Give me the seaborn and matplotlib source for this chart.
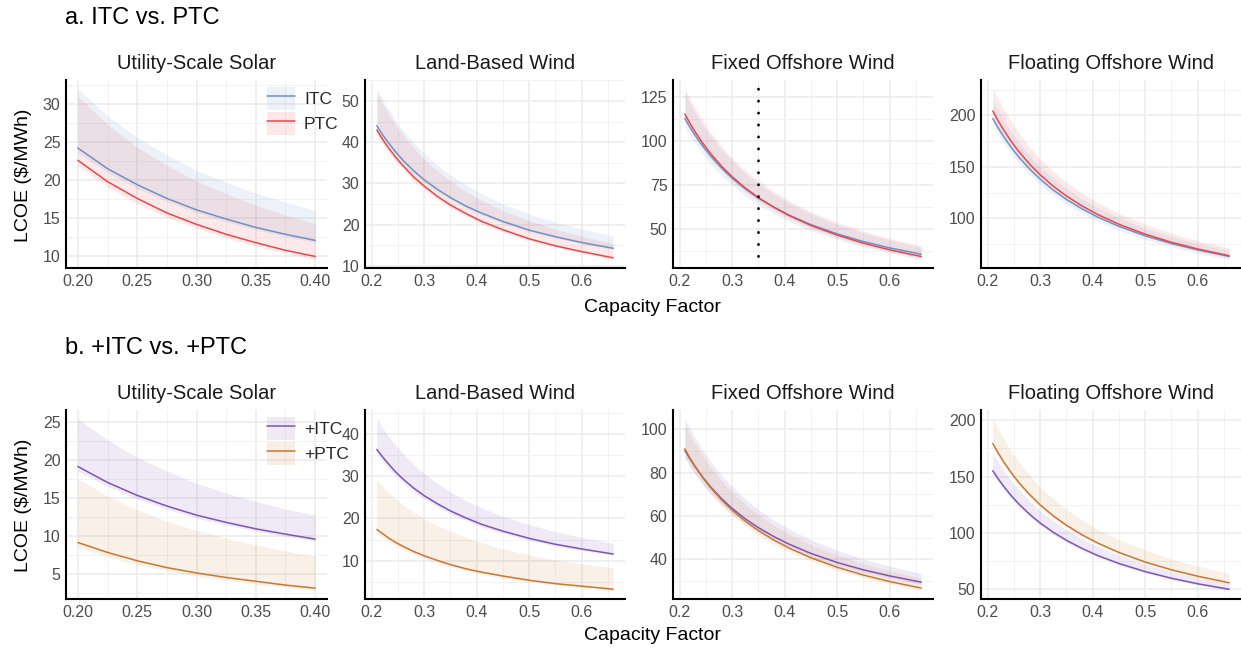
import numpy as np
import pandas as pd
import matplotlib
matplotlib.use("Agg")
import matplotlib.pyplot as plt
import seaborn as sns
from matplotlib.lines import Line2D
from matplotlib.patches import Patch
from matplotlib.legend_handler import HandlerTuple
from matplotlib.ticker import FormatStrFormatter, MultipleLocator

# capacity factor grids
cf_solar = [0.20, 0.225, 0.25, 0.275, 0.30, 0.325, 0.35, 0.375, 0.40]
cf_wind = [0.21, 0.22, 0.23, 0.245, 0.26, 0.28, 0.30, 0.325, 0.35, 0.38, 0.41, 0.45, 0.50, 0.55, 0.60, 0.66]

# ---- a. ITC vs PTC ----
a_sol_itc = [24.2, 21.5, 19.4, 17.6, 16.1, 14.9, 13.8, 12.9, 12.1]
a_sol_itc_lo = [23.6, 21.0, 18.9, 17.2, 15.7, 14.5, 13.5, 12.6, 11.8]
a_sol_itc_hi = [32.0, 28.4, 25.6, 23.3, 21.3, 19.7, 18.3, 17.1, 16.0]
a_sol_ptc = [22.6, 19.8, 17.6, 15.7, 14.2, 12.9, 11.8, 10.8, 10.0]
a_sol_ptc_lo = [21.8, 19.1, 16.9, 15.1, 13.7, 12.4, 11.3, 10.4, 9.6]
a_sol_ptc_hi = [31.0, 27.3, 24.3, 21.9, 19.9, 18.2, 16.7, 15.4, 14.3]

a_lbw_itc = [44.0, 42.0, 40.2, 37.8, 35.6, 33.1, 30.9, 28.6, 26.6, 24.5, 22.8, 20.8, 18.7, 17.1, 15.7, 14.3]
a_lbw_itc_lo = [43.1, 41.2, 39.4, 37.0, 34.9, 32.4, 30.3, 28.0, 26.1, 24.0, 22.3, 20.4, 18.3, 16.8, 15.4, 14.0]
a_lbw_itc_hi = [53.0, 50.6, 48.4, 45.5, 42.9, 39.9, 37.3, 34.5, 32.1, 29.6, 27.5, 25.1, 22.6, 20.6, 19.0, 17.3]
a_lbw_ptc = [43.0, 40.9, 39.0, 36.5, 34.3, 31.6, 29.4, 26.9, 24.8, 22.7, 20.8, 18.8, 16.6, 14.9, 13.5, 12.0]
a_lbw_ptc_lo = [41.7, 39.7, 37.8, 35.4, 33.3, 30.7, 28.5, 26.1, 24.1, 22.0, 20.2, 18.2, 16.1, 14.5, 13.1, 11.6]
a_lbw_ptc_hi = [52.0, 49.6, 47.3, 44.3, 41.7, 38.6, 35.9, 33.1, 30.6, 28.1, 25.9, 23.4, 21.0, 18.9, 17.2, 15.5]

a_fix_itc = [113.0, 107.8, 103.1, 96.8, 91.2, 84.6, 78.9, 72.8, 67.5, 62.2, 57.6, 52.4, 47.1, 42.7, 39.1, 35.5]
a_fix_itc_lo = [108.0, 103.0, 98.4, 92.2, 86.7, 80.3, 74.8, 68.8, 63.7, 58.5, 54.0, 49.0, 43.8, 39.6, 36.1, 32.5]
a_fix_itc_hi = [127.4, 121.5, 116.2, 109.0, 102.6, 95.2, 88.7, 81.8, 75.9, 69.8, 64.5, 58.6, 52.6, 47.7, 43.6, 39.5]
a_fix_ptc = [115.5, 110.1, 105.1, 98.5, 92.6, 85.7, 79.7, 73.3, 67.8, 62.2, 57.3, 51.9, 46.4, 41.8, 38.0, 34.2]
a_fix_ptc_lo = [112.0, 106.8, 101.9, 95.5, 89.8, 83.1, 77.3, 71.1, 65.8, 60.3, 55.6, 50.3, 45.0, 40.5, 36.9, 33.2]
a_fix_ptc_hi = [130.0, 124.0, 118.6, 111.2, 104.7, 97.1, 90.5, 83.5, 77.4, 71.2, 65.8, 59.8, 53.7, 48.7, 44.5, 40.3]

a_flo_itc = [196.8, 187.9, 179.8, 168.8, 159.1, 147.8, 138.0, 127.4, 118.3, 109.1, 101.1, 92.2, 83.0, 75.5, 69.3, 63.0]
a_flo_itc_lo = [190.0, 181.3, 173.4, 162.7, 153.3, 142.3, 132.8, 122.5, 113.7, 104.7, 97.0, 88.3, 79.4, 72.1, 66.0, 60.0]
a_flo_itc_hi = [214.5, 204.8, 196.0, 184.0, 173.4, 161.1, 150.4, 138.9, 128.9, 118.9, 110.2, 100.5, 90.5, 82.3, 75.5, 68.7]
a_flo_ptc = [204.2, 194.8, 186.3, 174.7, 164.5, 152.6, 142.3, 131.2, 121.7, 111.9, 103.6, 94.2, 84.6, 76.7, 70.2, 63.6]
a_flo_ptc_lo = [198.1, 189.0, 180.7, 169.5, 159.6, 148.0, 138.0, 127.3, 118.0, 108.5, 100.5, 91.4, 82.1, 74.4, 68.1, 61.7]
a_flo_ptc_hi = [226.0, 215.7, 206.3, 193.6, 182.3, 169.2, 157.8, 145.6, 135.1, 124.3, 115.1, 104.8, 94.2, 85.5, 78.3, 71.0]

# ---- b. +ITC vs +PTC ----
b_sol_itc = [19.2, 17.1, 15.4, 14.0, 12.8, 11.85, 11.0, 10.3, 9.65]
b_sol_itc_lo = [18.6, 16.6, 14.9, 13.6, 12.4, 11.5, 10.7, 10.0, 9.4]
b_sol_itc_hi = [25.5, 22.7, 20.4, 18.6, 17.0, 15.7, 14.6, 13.6, 12.8]
b_sol_ptc = [9.2, 7.9, 6.8, 5.9, 5.2, 4.6, 4.1, 3.6, 3.2]
b_sol_ptc_lo = [8.6, 7.3, 6.3, 5.5, 4.8, 4.2, 3.7, 3.3, 2.9]
b_sol_ptc_hi = [17.6, 15.3, 13.5, 12.0, 10.8, 9.75, 8.9, 8.1, 7.4]

b_lbw_itc = [36.3, 34.7, 33.2, 31.1, 29.3, 27.2, 25.4, 23.5, 21.8, 20.1, 18.6, 17.0, 15.3, 13.9, 12.8, 11.6]
b_lbw_itc_lo = [35.2, 33.7, 32.2, 30.2, 28.4, 26.4, 24.6, 22.8, 21.1, 19.5, 18.0, 16.5, 14.8, 13.5, 12.4, 11.3]
b_lbw_itc_hi = [43.6, 41.6, 39.8, 37.4, 35.3, 32.8, 30.6, 28.3, 26.3, 24.2, 22.5, 20.5, 18.5, 16.9, 15.5, 14.1]
b_lbw_ptc = [17.4, 16.5, 15.6, 14.4, 13.4, 12.2, 11.2, 10.1, 9.1, 8.1, 7.3, 6.4, 5.4, 4.6, 4.0, 3.3]
b_lbw_ptc_lo = [16.5, 15.6, 14.8, 13.7, 12.7, 11.6, 10.6, 9.5, 8.6, 7.6, 6.8, 5.9, 5.0, 4.3, 3.6, 3.0]
b_lbw_ptc_hi = [29.1, 27.7, 26.5, 24.7, 23.2, 21.5, 20.0, 18.3, 16.9, 15.5, 14.2, 12.8, 11.4, 10.2, 9.3, 8.3]

b_fix_itc = [90.3, 86.3, 82.6, 77.6, 73.2, 68.0, 63.5, 58.7, 54.6, 50.4, 46.8, 42.7, 38.5, 35.1, 32.3, 29.4]
b_fix_itc_lo = [86.7, 82.8, 79.3, 74.5, 70.3, 65.3, 61.0, 56.4, 52.4, 48.4, 44.9, 41.0, 37.0, 33.7, 31.0, 28.2]
b_fix_itc_hi = [105.0, 100.2, 95.9, 90.0, 84.8, 78.8, 73.5, 67.8, 63.0, 58.0, 53.8, 49.0, 44.1, 40.1, 36.8, 33.4]
b_fix_ptc = [91.0, 86.7, 82.8, 77.5, 72.9, 67.4, 62.7, 57.6, 53.3, 48.8, 45.0, 40.7, 36.3, 32.7, 29.7, 26.7]
b_fix_ptc_lo = [87.4, 83.2, 79.5, 74.4, 70.0, 64.7, 60.2, 55.3, 51.2, 46.8, 43.2, 39.1, 34.8, 31.4, 28.5, 25.6]
b_fix_ptc_hi = [102.0, 97.3, 93.0, 87.2, 82.1, 76.1, 70.9, 65.3, 60.5, 55.6, 51.4, 46.7, 41.9, 37.9, 34.6, 31.3]

b_flo_itc = [155.2, 148.2, 141.8, 133.1, 125.5, 116.6, 108.9, 100.6, 93.5, 86.2, 79.9, 72.9, 65.7, 59.8, 54.9, 50.0]
b_flo_itc_lo = [152.1, 145.2, 139.0, 130.4, 123.0, 114.3, 106.7, 98.6, 91.6, 84.5, 78.3, 71.4, 64.4, 58.6, 53.8, 49.0]
b_flo_itc_hi = [170.7, 163.0, 156.0, 146.4, 138.1, 128.3, 119.8, 110.7, 102.9, 94.8, 87.9, 80.2, 72.3, 65.8, 60.4, 55.0]
b_flo_ptc = [179.4, 171.2, 163.6, 153.5, 144.5, 134.1, 125.0, 115.2, 106.9, 98.3, 91.0, 82.7, 74.2, 67.3, 61.6, 55.8]
b_flo_ptc_lo = [175.8, 167.8, 160.3, 150.4, 141.6, 131.4, 122.5, 112.9, 104.8, 96.3, 89.2, 81.0, 72.7, 66.0, 60.4, 54.7]
b_flo_ptc_hi = [201.5, 192.3, 184.0, 172.7, 162.8, 151.1, 141.1, 130.2, 120.9, 111.4, 103.2, 94.1, 84.7, 77.0, 70.6, 64.2]

titles = ["Utility-Scale Solar", "Land-Based Wind", "Fixed Offshore Wind", "Floating Offshore Wind"]
row_titles = ["a. ITC vs. PTC", "b. +ITC vs. +PTC"]
labels_a = ["ITC", "PTC"]
labels_b = ["+ITC", "+PTC"]
colors_a = ["#7190C6", "#E8474B"]
colors_b = ["#7D55B3", "#C9782F"]

yticks = [
    [[10, 15, 20, 25, 30], [10, 20, 30, 40, 50], [50, 75, 100, 125], [100, 150, 200]],
    [[5, 10, 15, 20, 25], [10, 20, 30, 40], [40, 60, 80, 100], [50, 100, 150, 200]],
]

rows = [
    [(cf_solar, a_sol_itc, a_sol_itc_lo, a_sol_itc_hi, a_sol_ptc, a_sol_ptc_lo, a_sol_ptc_hi),
     (cf_wind, a_lbw_itc, a_lbw_itc_lo, a_lbw_itc_hi, a_lbw_ptc, a_lbw_ptc_lo, a_lbw_ptc_hi),
     (cf_wind, a_fix_itc, a_fix_itc_lo, a_fix_itc_hi, a_fix_ptc, a_fix_ptc_lo, a_fix_ptc_hi),
     (cf_wind, a_flo_itc, a_flo_itc_lo, a_flo_itc_hi, a_flo_ptc, a_flo_ptc_lo, a_flo_ptc_hi)],
    [(cf_solar, b_sol_itc, b_sol_itc_lo, b_sol_itc_hi, b_sol_ptc, b_sol_ptc_lo, b_sol_ptc_hi),
     (cf_wind, b_lbw_itc, b_lbw_itc_lo, b_lbw_itc_hi, b_lbw_ptc, b_lbw_ptc_lo, b_lbw_ptc_hi),
     (cf_wind, b_fix_itc, b_fix_itc_lo, b_fix_itc_hi, b_fix_ptc, b_fix_ptc_lo, b_fix_ptc_hi),
     (cf_wind, b_flo_itc, b_flo_itc_lo, b_flo_itc_hi, b_flo_ptc, b_flo_ptc_lo, b_flo_ptc_hi)],
]

sns.set_theme(style="white")
plt.rcParams['font.family'] = ['Liberation Sans', 'DejaVu Sans']

W, H = 1241, 651
fig = plt.figure(figsize=(W / 100, H / 100), dpi=100)

panel_x = [(66, 327), (365, 625), (673, 933), (981, 1241)]
row_y = [(80, 268), (410, 599)]

for r in range(2):
    labels = labels_a if r == 0 else labels_b
    colors = colors_a if r == 0 else colors_b
    top, bot = row_y[r]
    for c in range(4):
        x0, x1 = panel_x[c]
        ax = fig.add_axes([x0 / W, (H - bot) / H, (x1 - x0) / W, (bot - top) / H])
        cf, itc, itc_lo, itc_hi, ptc, ptc_lo, ptc_hi = rows[r][c]

        ax.fill_between(cf, itc_lo, itc_hi, color=colors[0], alpha=0.12, lw=0)
        ax.fill_between(cf, ptc_lo, ptc_hi, color=colors[1], alpha=0.11, lw=0)

        df = pd.DataFrame({
            'cf': cf + cf,
            'lcoe': itc + ptc,
            'policy': [labels[0]] * len(cf) + [labels[1]] * len(cf),
        })
        sns.lineplot(data=df, x='cf', y='lcoe', hue='policy', palette=colors,
                     ax=ax, legend=False, linewidth=1.1)

        if r == 0 and c == 2:
            ax.axvline(0.35, color='black', lw=2, linestyle=(0, (0.1, 4.2)),
                       dash_capstyle='round', zorder=5)

        if c == 0:
            ax.xaxis.set_major_locator(MultipleLocator(0.05))
            ax.xaxis.set_minor_locator(MultipleLocator(0.025))
            ax.xaxis.set_major_formatter(FormatStrFormatter('%.2f'))
        else:
            ax.xaxis.set_major_locator(MultipleLocator(0.1))
            ax.xaxis.set_minor_locator(MultipleLocator(0.05))
            ax.xaxis.set_major_formatter(FormatStrFormatter('%.1f'))
        yt = yticks[r][c]
        ax.set_yticks(yt)
        ax.yaxis.set_minor_locator(MultipleLocator((yt[1] - yt[0]) / 2))

        ax.grid(True, which='major', color='#EBEBEB', lw=1.1)
        ax.grid(True, which='minor', color='#F2F2F2', lw=0.7)
        ax.set_axisbelow(True)
        for s in ['top', 'right']:
            ax.spines[s].set_visible(False)
        for s in ['left', 'bottom']:
            ax.spines[s].set_color('black')
            ax.spines[s].set_linewidth(1.5)
        ax.tick_params(which='both', length=0, labelsize=11.5, labelcolor='#4D4D4D', pad=4)
        ax.set_xlabel('')
        ax.set_ylabel('')
        ax.set_title(titles[c], fontsize=14.5, color='#1A1A1A', pad=8)

        if c == 0:
            handles = [(Patch(facecolor=colors[i], alpha=0.12, lw=0),
                        Line2D([], [], color=colors[i], lw=1.1)) for i in range(2)]
            ax.legend(handles, labels, handler_map={tuple: HandlerTuple(ndivide=1)},
                      loc='upper left', bbox_to_anchor=((x1 - 63) / W, (H - top - 4) / H),
                      bbox_transform=fig.transFigure, frameon=False, fontsize=12.5,
                      handlelength=1.6, handleheight=1.6, labelspacing=0.15,
                      handletextpad=0.5, borderpad=0.2, borderaxespad=0)

    fig.text(65 / W, 1 - (18 + 330 * r) / H, row_titles[r], fontsize=17,
             ha='left', va='center', color='black')
    fig.text(653 / W, 1 - (308 + 328 * r) / H, 'Capacity Factor', fontsize=14,
             ha='center', va='center', color='black')
    fig.text(24 / W, 1 - (175 + 330 * r) / H, 'LCOE ($/MWh)', fontsize=14,
             ha='center', va='center', rotation=90, color='black')

plt.savefig('out.png', dpi=100)
